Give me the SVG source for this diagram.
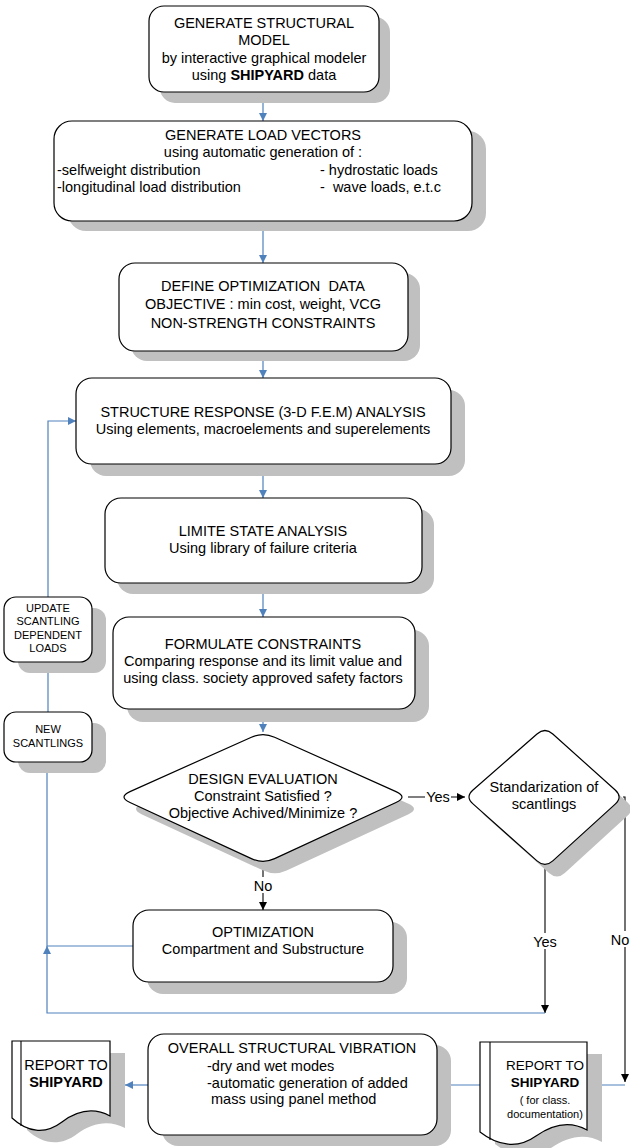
<svg xmlns="http://www.w3.org/2000/svg" width="630" height="1148" viewBox="0 0 630 1148">
<defs>
<style>
text{font-family:"Liberation Sans",Arial,sans-serif;font-size:14.5px;fill:#000}
.c{text-anchor:middle}
.s{font-size:11px}
.sh{fill:#c0c0c0;stroke:none}
.box{fill:#fff;stroke:#000;stroke-width:1.2}
.bl{fill:none;stroke:#4f81bd;stroke-width:1.2}
.bk{fill:none;stroke:#000;stroke-width:1.1}
.b{font-weight:bold}
</style>
<marker id="ab" viewBox="0 0 10 10" refX="10" refY="5" markerWidth="8" markerHeight="8" orient="auto" markerUnits="userSpaceOnUse"><path d="M0,0 L10,5 L0,10 Z" fill="#4f81bd"/></marker>
<marker id="ak" viewBox="0 0 10 10" refX="10" refY="5" markerWidth="8" markerHeight="8" orient="auto" markerUnits="userSpaceOnUse"><path d="M0,0 L10,5 L0,10 Z" fill="#000"/></marker>
</defs>
<rect width="630" height="1148" fill="#fff"/>

<g id="connectors">
<path class="bl" d="M263,92 V121" marker-end="url(#ab)"/>
<path class="bl" d="M263,221 V263" marker-end="url(#ab)"/>
<path class="bl" d="M263,351 V378" marker-end="url(#ab)"/>
<path class="bl" d="M263,464 V498" marker-end="url(#ab)"/>
<path class="bl" d="M263,583 V617" marker-end="url(#ab)"/>
<path class="bl" d="M263,709 V732" marker-end="url(#ab)"/>
<path class="bk" d="M263,864 V910" marker-end="url(#ak)"/>
<rect x="254" y="877" width="18" height="16" fill="#fff"/>
<text class="c" x="263" y="891">No</text>
<path class="bk" d="M408,797 H465" marker-end="url(#ak)"/>
<rect x="425" y="789" width="26" height="16" fill="#fff"/>
<text class="c" x="438" y="802">Yes</text>
<path class="bk" d="M545,868 V1013" marker-end="url(#ak)"/>
<rect x="533" y="933" width="24" height="16" fill="#fff"/>
<text class="c" x="545" y="947">Yes</text>
<path class="bk" d="M623,797 H625 V1082" marker-end="url(#ak)"/>
<rect x="610" y="931" width="20" height="16" fill="#fff"/>
<text class="c" x="620" y="945">No</text>
<path class="bl" d="M545,1013 H47 V946"  marker-end="url(#ab)"/>
<path class="bl" d="M133,946 H47 V762" marker-end="url(#ab)"/>
<path class="bl" d="M48,712 V662" marker-end="url(#ab)"/>
<path class="bl" d="M48,597 V421 H76" marker-end="url(#ab)"/>
<path class="bl" d="M625,1085 H437" marker-end="url(#ab)"/>
<path class="bl" d="M148,1085 H125" marker-end="url(#ab)"/>
</g>

<g id="n1">
<rect class="sh" x="160" y="17" width="230" height="86" rx="15"/>
<rect class="box" x="149" y="6" width="230" height="86" rx="15"/>
<text class="c" x="264" y="28">GENERATE STRUCTURAL</text>
<text class="c" x="264" y="45">MODEL</text>
<text class="c" x="264" y="63">by interactive graphical modeler</text>
<text class="c" x="264" y="80">using <tspan class="b">SHIPYARD</tspan> data</text>
</g>

<g id="n2">
<rect class="sh" x="68" y="131" width="418" height="100" rx="18"/>
<rect class="box" x="54" y="121" width="418" height="100" rx="18"/>
<text class="c" x="263" y="140">GENERATE LOAD VECTORS</text>
<text class="c" x="263" y="157">using automatic generation of :</text>
<text x="57" y="175">-selfweight distribution</text>
<text x="320" y="175">- hydrostatic loads</text>
<text x="57" y="192">-longitudinal load distribution</text>
<text x="320" y="192" xml:space="preserve">-  wave loads, e.t.c</text>
</g>

<g id="n3">
<rect class="sh" x="131" y="273" width="289" height="88" rx="16"/>
<rect class="box" x="119" y="263" width="289" height="88" rx="16"/>
<text class="c" x="263" y="291" xml:space="preserve">DEFINE OPTIMIZATION  DATA</text>
<text class="c" x="263" y="309">OBJECTIVE : min cost, weight, VCG</text>
<text class="c" x="263" y="328">NON-STRENGTH CONSTRAINTS</text>
</g>

<g id="n4">
<rect class="sh" x="90" y="390" width="375" height="86" rx="16"/>
<rect class="box" x="76" y="378" width="375" height="86" rx="16"/>
<text class="c" x="263" y="417">STRUCTURE RESPONSE (3-D F.E.M) ANALYSIS</text>
<text class="c" x="263" y="434">Using elements, macroelements and superelements</text>
</g>

<g id="n5">
<rect class="sh" x="117" y="509" width="317" height="85" rx="16"/>
<rect class="box" x="105" y="498" width="317" height="85" rx="16"/>
<text class="c" x="263" y="536">LIMITE STATE ANALYSIS</text>
<text class="c" x="263" y="553">Using library of failure criteria</text>
</g>

<g id="n6">
<rect class="sh" x="127" y="630" width="302" height="92" rx="16"/>
<rect class="box" x="113" y="617" width="302" height="92" rx="16"/>
<text class="c" x="263" y="649">FORMULATE CONSTRAINTS</text>
<text class="c" x="263" y="666">Comparing response and its limit value and</text>
<text class="c" x="263" y="683">using class. society approved safety factors</text>
</g>

<g id="upd">
<rect class="sh" x="18" y="608" width="88" height="65" rx="12"/>
<rect class="box" x="4" y="597" width="88" height="65" rx="12"/>
<text class="c s" x="48" y="612">UPDATE</text>
<text class="c s" x="48" y="625">SCANTLING</text>
<text class="c s" x="48" y="639">DEPENDENT</text>
<text class="c s" x="48" y="652">LOADS</text>
</g>

<g id="newsc">
<rect class="sh" x="18" y="723" width="88" height="50" rx="12"/>
<rect class="box" x="4" y="712" width="88" height="50" rx="12"/>
<text class="c s" x="48" y="733">NEW</text>
<text class="c s" x="48" y="747">SCANTLINGS</text>
</g>

<g id="d1">
<path class="sh" transform="translate(12,12)" d="M130,791.6 L251.4,737.2 Q263,732 274.6,737.2 L396,791.6 Q408,797 396,802.5 L274.6,858.6 Q263,864 251.4,858.6 L130,802.5 Q118,797 130,791.6 Z"/>
<path class="box" d="M130,791.6 L251.4,737.2 Q263,732 274.6,737.2 L396,791.6 Q408,797 396,802.5 L274.6,858.6 Q263,864 251.4,858.6 L130,802.5 Q118,797 130,791.6 Z"/>
<text class="c" x="263" y="784">DESIGN EVALUATION</text>
<text class="c" x="263" y="801">Constraint Satisfied ?</text>
<text class="c" x="263" y="818">Objective Achived/Minimize ?</text>
</g>

<g id="d2">
<path class="sh" transform="translate(12,12)" d="M473,790 L537,734 Q545,727 552.8,734 L615.2,790 Q623,797 615.2,804.1 L552.8,860.9 Q545,868 537,860.9 L473,803.9 Q465,797 473,790 Z"/>
<path class="box" d="M473,790 L537,734 Q545,727 552.8,734 L615.2,790 Q623,797 615.2,804.1 L552.8,860.9 Q545,868 537,860.9 L473,803.9 Q465,797 473,790 Z"/>
<text class="c" x="544" y="792">Standarization of</text>
<text class="c" x="544" y="809">scantlings</text>
</g>

<g id="opt">
<rect class="sh" x="147" y="922" width="260" height="72" rx="16"/>
<rect class="box" x="133" y="910" width="260" height="72" rx="16"/>
<text class="c" x="263" y="937">OPTIMIZATION</text>
<text class="c" x="263" y="954">Compartment and Substructure</text>
</g>

<g id="vib">
<rect class="sh" x="162" y="1045" width="289" height="101" rx="16"/>
<rect class="box" x="148" y="1034" width="289" height="101" rx="16"/>
<text class="c" x="292" y="1053">OVERALL STRUCTURAL VIBRATION</text>
<text x="207" y="1071">-dry and wet modes</text>
<text x="207" y="1088">-automatic generation of added</text>
<text x="207" y="1104" xml:space="preserve"> mass using panel method</text>
</g>

<g id="repL">
<path class="sh" transform="translate(15,12)" d="M12,1041 H110 V1116 C95,1108 78,1110 62,1122 C45,1135 27,1132 12,1118 Z"/>
<path class="box" d="M12,1041 H110 V1116 C95,1108 78,1110 62,1122 C45,1135 27,1132 12,1118 Z"/>
<path class="bk" d="M21,1041 V1126"/>
<text class="c" x="66" y="1070">REPORT TO</text>
<text class="c b" x="66" y="1087">SHIPYARD</text>
</g>

<g id="repR">
<path class="sh" transform="translate(15,12)" d="M480,1042 H587 V1130 C571,1121 553,1124 536,1136 C518,1149 498,1146 480,1132 Z"/>
<path class="box" d="M480,1042 H587 V1130 C571,1121 553,1124 536,1136 C518,1149 498,1146 480,1132 Z"/>
<path class="bk" d="M490,1042 V1140"/>
<text class="c" x="545" y="1070" style="font-size:13.5px">REPORT TO</text>
<text class="c b" x="545" y="1087" style="font-size:13.5px">SHIPYARD</text>
<text class="c s" x="545" y="1104">( for class.</text>
<text class="c s" x="545" y="1118">documentation)</text>
</g>
</svg>
